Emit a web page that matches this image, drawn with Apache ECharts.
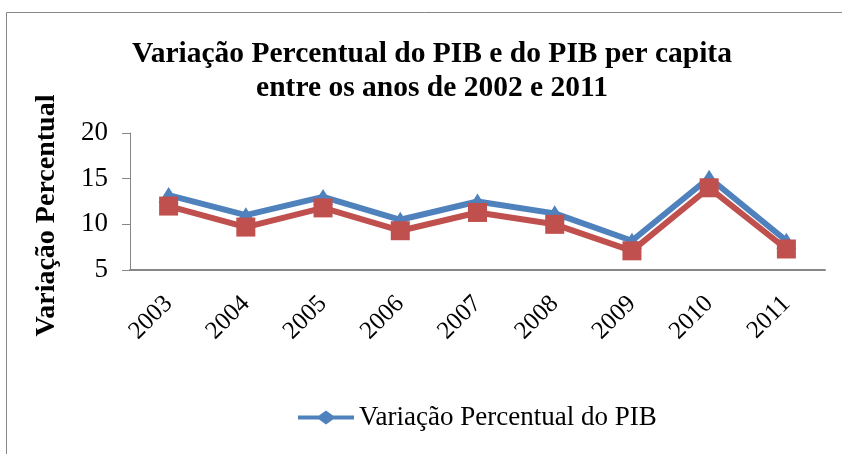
<!DOCTYPE html>
<html>
<head>
<meta charset="utf-8">
<script src="https://cdn.jsdelivr.net/npm/echarts@6/dist/echarts.min.js"></script>
<style>
  html, body { margin: 0; padding: 0; background: #fff; }
  #chart { width: 842px; height: 454px; }
</style>
</head>
<body>
<div id="chart"></div>
<script>
var anos = ['2003', '2004', '2005', '2006', '2007', '2008', '2009', '2010', '2011'];
var pib = [13.2, 11.0, 13.0, 10.5, 12.5, 11.2, 8.2, 15.1, 8.2];
var pibPerCapita = [12.0, 9.7, 11.8, 9.3, 11.3, 10.0, 7.1, 14.0, 7.3];
var yTicks = [5, 10, 15, 20];

var chart = echarts.init(document.getElementById('chart'), null, { renderer: 'canvas' });

var serif = '"Liberation Serif", "Times New Roman", serif';

var option = {
  animation: false,
  backgroundColor: '#fff',
  title: {
    text: 'Variação Percentual do PIB e do PIB per capita\nentre os anos de 2002 e 2011',
    left: 432,
    top: 37,
    padding: 0,
    textAlign: 'center',
    textStyle: {
      fontFamily: serif,
      fontWeight: 'bold',
      fontSize: 29.5,
      lineHeight: 34,
      color: '#000'
    }
  },
  // moldura cinza do gráfico
  graphic: [{
    type: 'rect',
    shape: { x: 6.5, y: 12.5, width: 860, height: 470 },
    style: { fill: 'none', stroke: '#868686', lineWidth: 1 },
    silent: true
  }],
  legend: {
    data: ['Variação Percentual do PIB'],
    left: 293,
    top: 399,
    itemWidth: 56,
    itemHeight: 14,
    itemGap: 4,
    icon: 'path://M0,5 L21,5 L28,0 L35,5 L56,5 L56,9 L35,9 L28,14 L21,9 L0,9 Z',
    textStyle: { fontFamily: serif, fontSize: 27, color: '#000' }
  },
  grid: { left: 130, right: 17, top: 133, bottom: 184 },
  xAxis: {
    type: 'category',
    data: anos,
    boundaryGap: true,
    axisLine: { lineStyle: { color: '#868686', width: 2 } },
    axisTick: { show: false },
    axisLabel: {
      rotate: 45,
      margin: 30,
      fontFamily: serif,
      fontSize: 25,
      color: '#000'
    }
  },
  yAxis: {
    type: 'value',
    min: 5,
    max: 20,
    interval: 5,
    name: 'Variação Percentual',
    nameLocation: 'middle',
    nameGap: 69,
    nameRotate: 90,
    nameTextStyle: {
      fontFamily: serif,
      fontWeight: 'bold',
      fontSize: 28,
      color: '#000',
      padding: [0, 28, 0, 0]
    },
    axisLine: { show: true, lineStyle: { color: '#868686', width: 1 } },
    axisTick: { show: true, length: 8, lineStyle: { color: '#868686' } },
    splitLine: { show: false },
    axisLabel: {
      margin: 22,
      fontFamily: serif,
      fontSize: 27,
      color: '#000',
      formatter: function (v) { return yTicks.indexOf(v) >= 0 ? v : ''; }
    }
  },
  series: [
    {
      name: 'Variação Percentual do PIB',
      type: 'line',
      data: pib,
      symbol: 'triangle',
      symbolSize: [20, 16],
      lineStyle: { color: '#4F81BD', width: 6 },
      itemStyle: { color: '#4F81BD' },
      z: 2
    },
    {
      name: 'Variação Percentual do PIB per capita',
      type: 'line',
      data: pibPerCapita,
      symbol: 'rect',
      symbolSize: 19,
      lineStyle: { color: '#C0504D', width: 6 },
      itemStyle: { color: '#C0504D' },
      z: 3
    }
  ]
};

chart.setOption(option);
</script>
</body>
</html>
